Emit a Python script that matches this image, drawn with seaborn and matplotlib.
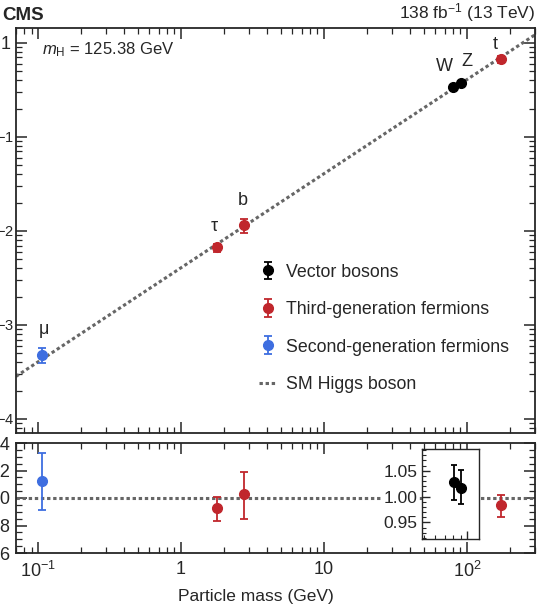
import numpy as np
import pandas as pd
import matplotlib
matplotlib.use('Agg')
import matplotlib.pyplot as plt
import matplotlib.transforms as mtransforms
import seaborn as sns

# values
particles = ['μ', 'τ', 'b', 'W', 'Z', 't']
mass = [0.1057, 1.777, 2.76, 80.38, 91.19, 172.5]
group = ['Second-generation fermions', 'Third-generation fermions', 'Third-generation fermions',
         'Vector bosons', 'Vector bosons', 'Third-generation fermions']
coupling = [4.8e-4, 6.68e-3, 1.155e-2, 0.336, 0.377, 0.67]
coupling_lo = [0.9e-4, 0.65e-3, 2.0e-3, 0.012, 0.013, 0.063]
coupling_hi = [0.9e-4, 0.58e-3, 1.8e-3, 0.011, 0.013, 0.053]
ratio = [1.12, 0.925, 1.03, 1.029, 1.017, 0.95]
ratio_lo = [0.21, 0.09, 0.18, 0.036, 0.032, 0.09]
ratio_hi = [0.21, 0.08, 0.16, 0.032, 0.035, 0.075]

sm_mass = [0.07, 300.0]
sm_coupling = [2.84e-4, 1.22]
sm_ratio = [1.0, 1.0]

groups = ['Vector bosons', 'Third-generation fermions', 'Second-generation fermions']
colors = {'Vector bosons': '#000000', 'Third-generation fermions': '#c0262c',
          'Second-generation fermions': '#3e6ee0'}

df = pd.DataFrame({'particle': particles, 'mass': mass, 'group': group,
                   'coupling': coupling, 'c_lo': coupling_lo, 'c_hi': coupling_hi,
                   'ratio': ratio, 'r_lo': ratio_lo, 'r_hi': ratio_hi})
sm = pd.DataFrame({'mass': sm_mass, 'coupling': sm_coupling, 'ratio': sm_ratio})

sns.set_style('ticks')
plt.rcParams['font.family'] = ['Liberation Sans', 'DejaVu Sans']
plt.rcParams['mathtext.fontset'] = 'custom'
plt.rcParams['mathtext.rm'] = 'Liberation Sans'
plt.rcParams['mathtext.it'] = 'Liberation Sans:italic'
plt.rcParams['font.size'] = 12

fig = plt.figure(figsize=(5.5, 6.1), dpi=100)
ax = fig.add_axes([16 / 550, 177 / 610, 519 / 550, 405 / 610])
axr = fig.add_axes([16 / 550, 57 / 610, 519 / 550, 110 / 610])

sm_style = dict(color='#666666', lw=2.2, dashes=(1.1, 0.9))

# top panel
sns.lineplot(data=sm, x='mass', y='coupling', ax=ax, label='SM Higgs boson', **sm_style)
handles = {}
for g in groups:
    d = df[df['group'] == g]
    h = ax.errorbar(d['mass'], d['coupling'], yerr=[d['c_lo'], d['c_hi']], fmt='o',
                    color=colors[g], ms=7, capsize=3, elinewidth=1.3, capthick=1.3,
                    label=g, zorder=3)
    handles[g] = h

offsets = {'μ': (2, 25), 'τ': (-2, 21), 'b': (-1, 25), 'W': (-9, 21), 'Z': (6, 21), 't': (-5, 15)}
for _, r in df.iterrows():
    ax.annotate(r['particle'], (r['mass'], r['coupling']), xytext=offsets[r['particle']],
                textcoords='offset pixels', ha='center', va='center', fontsize=13)

ax.set_xscale('log')
ax.set_yscale('log')
ax.set_xlim(0.07, 300)
ax.set_ylim(7.1e-5, 1.44)
ax.set_yticks([1, 1e-1, 1e-2, 1e-3, 1e-4])
ax.set_yticklabels(['1', '$10^{-1}$', '$10^{-2}$', '$10^{-3}$', '$10^{-4}$'])
ax.tick_params(labelbottom=False)
ax.set_xlabel('')
ax.set_ylabel('')

line_handle = ax.get_lines()[0]
leg = ax.legend([handles[g] for g in groups] + [line_handle], groups + ['SM Higgs boson'],
                loc='upper left', bbox_to_anchor=(0.468, 0.418), frameon=False,
                labelspacing=1.15, handlelength=1.0, handletextpad=0.55, fontsize=12.8,
                borderpad=0, borderaxespad=0)

ax.text(0.05, 0.946, '$m_\\mathrm{H}$ = 125.38 GeV', transform=ax.transAxes,
        ha='left', va='center', fontsize=12)
ax.text(-0.027, 1.01, 'CMS', transform=ax.transAxes, ha='left', va='bottom',
        fontsize=13.5, fontweight='bold')
ax.text(1.0, 1.01, '138 fb$^{-1}$ (13 TeV)', transform=ax.transAxes, ha='right',
        va='bottom', fontsize=12.5)

# ratio panel
sns.lineplot(data=sm, x='mass', y='ratio', ax=axr, legend=False, zorder=1, **sm_style)
for g in ['Third-generation fermions', 'Second-generation fermions']:
    d = df[df['group'] == g]
    axr.errorbar(d['mass'], d['ratio'], yerr=[d['r_lo'], d['r_hi']], fmt='o',
                 color=colors[g], ms=7, capsize=3, elinewidth=1.3, capthick=1.3, zorder=3)
axr.set_xscale('log')
axr.set_xlim(0.07, 300)
axr.set_ylim(0.6, 1.4)
axr.set_yticks([0.6, 0.8, 1.0, 1.2, 1.4])
axr.set_yticklabels(['0.6', '0.8', '1.0', '1.2', '1.4'])
axr.yaxis.set_minor_locator(matplotlib.ticker.MultipleLocator(0.05))
axr.set_xticks([0.1, 1, 10, 100])
axr.set_xticklabels(['$10^{-1}$', '1', '10', '$10^{2}$'])
axr.set_xlabel('Particle mass (GeV)', fontsize=12.5)
axr.xaxis.set_label_coords(0.462, -0.33)
axr.set_ylabel('')

# inset with the vector bosons
axi = fig.add_axes([422 / 550, 71 / 610, 57 / 550, 90 / 610], facecolor='white')
d = df[df['group'] == 'Vector bosons']
axi.errorbar(d['mass'], d['ratio'], yerr=[d['r_lo'], d['r_hi']], fmt='o', color='black',
             ms=7, capsize=2.5, elinewidth=1.3, capthick=1.3)
axi.set_xscale('log')
axi.set_xlim(48.4, 121)
axi.set_ylim(0.918, 1.092)
axi.set_yticks([0.95, 1.0, 1.05])
axi.set_yticklabels(['0.95', '1.00', '1.05'])
axi.yaxis.set_minor_locator(matplotlib.ticker.MultipleLocator(0.01))
axi.tick_params(which='both', direction='in', top=False, right=False, labelbottom=False,
                labelsize=12.5, pad=3)
axi.tick_params(which='major', length=6, width=1)
axi.tick_params(which='minor', length=3, width=0.8)
for lbl in axi.get_yticklabels():
    lbl.set_bbox(dict(facecolor='white', edgecolor='none', pad=0.5))
for s in axi.spines.values():
    s.set_linewidth(1.0)

for a in (ax, axr):
    a.tick_params(which='both', direction='in', top=True, right=True, labelsize=13)
    a.tick_params(axis='y', pad=4)
    a.tick_params(axis='x', pad=6)
    a.tick_params(which='major', length=8, width=1.1)
    a.tick_params(which='minor', length=4, width=0.9)
    for s in a.spines.values():
        s.set_linewidth(1.3)
        s.set_visible(True)

# the powers of ten on the top panel carry large exponents; nudge them so the
# exponent sits at the tick, as in the cropped original
shift = mtransforms.ScaledTranslation(4 / 100, -4 / 100, fig.dpi_scale_trans)
for lbl in ax.get_yticklabels()[1:]:
    lbl.set_fontsize(15)
    lbl.set_transform(lbl.get_transform() + shift)

fig.savefig('out.png', dpi=100)
